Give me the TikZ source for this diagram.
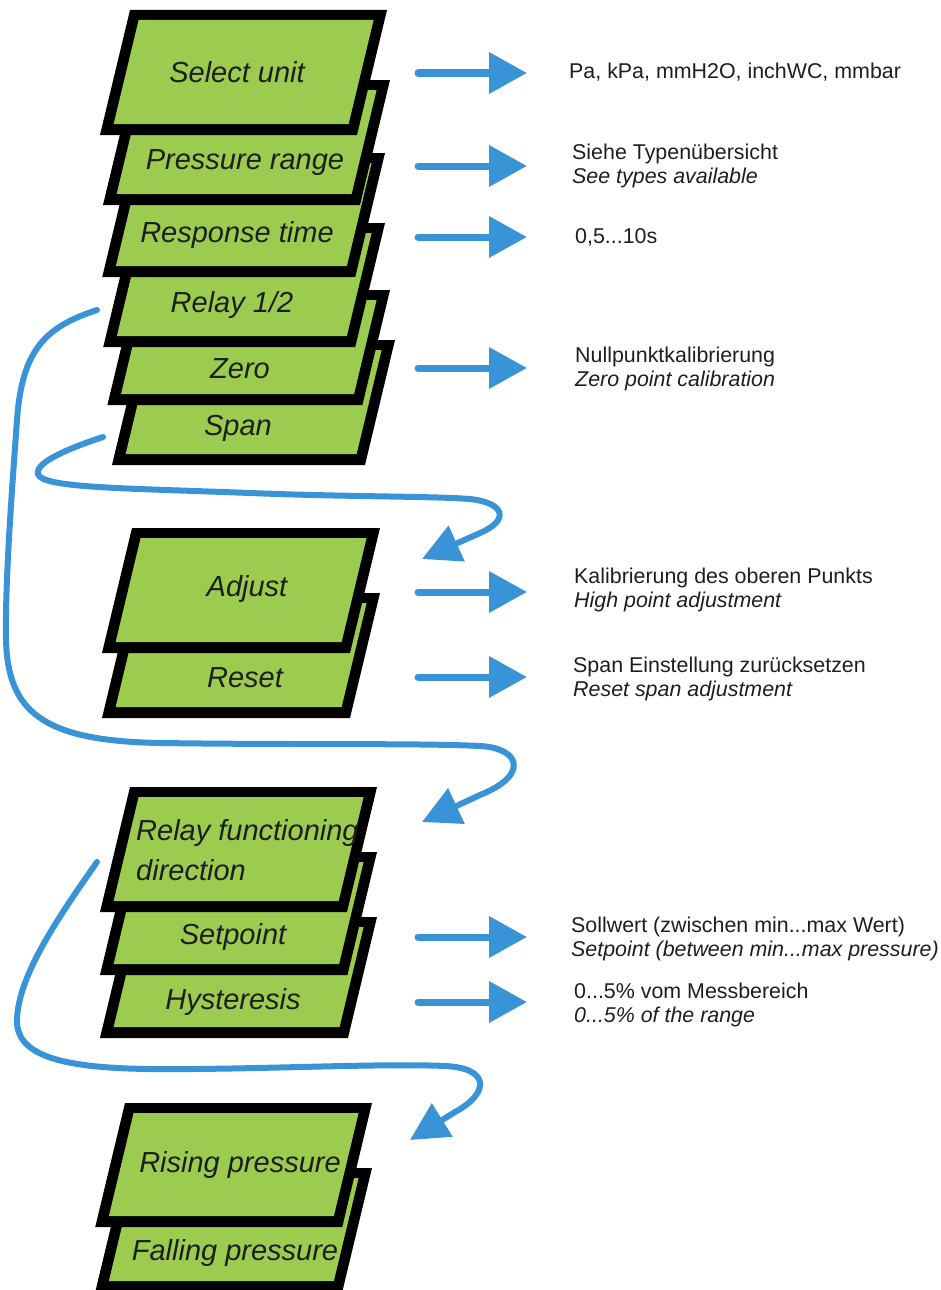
\documentclass[tikz,border=0pt]{standalone}
\usepackage{fontspec}
\setmainfont{Liberation Sans}
\usetikzlibrary{arrows.meta}
\definecolor{cardgreen}{RGB}{155,204,80}
\definecolor{flowblue}{RGB}{56,148,214}
\definecolor{inkgray}{RGB}{30,30,30}
\tikzset{
  cardtext/.style={font=\fontsize{29}{34}\selectfont\itshape, text=inkgray, inner sep=0pt},
  lbl/.style={font=\fontsize{21.4}{24}\selectfont, anchor=west, align=left, inner sep=0pt, text=inkgray},
  straightarrow/.style={draw=flowblue, line width=7pt, line cap=round, -{Triangle[length=38pt,width=40pt]}},
  curvearrow/.style={draw=flowblue, line width=6pt, line cap=round, -{Triangle[length=38pt,width=38pt]}},
}
% #1 top-right x, #2 top y, #3 bottom y, #4 width of top edge
\newcommand\drawcard[4]{%
  \pgfmathsetmacro\cH{#3-#2}%
  \pgfmathsetmacro\cS{0.24*\cH}%
  \fill[black] (#1,#2) -- ({#1-#4},#2) -- ({#1-#4-\cS},#3) -- ({#1-\cS},#3) -- cycle;
  \fill[cardgreen] ({#1-11-2.4},{#2+10}) -- ({#1-#4+11-2.4},{#2+10})
     -- ({#1-#4+11-0.24*(\cH-11)},{#3-11}) -- ({#1-11-0.24*(\cH-11)},{#3-11}) -- cycle;
}
\begin{document}
\begin{tikzpicture}[x=1pt,y=-1pt]
\useasboundingbox (0,0) rectangle (941,1290);
% ---------- stack 1
\drawcard{395}{340}{465}{253}
\drawcard{390}{290}{405}{255}
\drawcard{385}{223}{347}{252}
\drawcard{385}{153}{277}{253}
\drawcard{390}{80}{205}{257}
\drawcard{387}{10}{135}{257}
% ---------- stack 2
\drawcard{380}{593}{718}{248}
\drawcard{380}{528}{653}{248}
% ---------- stack 3
\drawcard{377}{917}{1038}{248}
\drawcard{377}{852}{975}{247.5}
\drawcard{377}{787}{912}{247}
% ---------- stack 4
\drawcard{372}{1168}{1292}{247}
\drawcard{372}{1103}{1227}{247}

% ---------- card texts
\node[cardtext] (select) at (237,72) {Select unit};
\node[cardtext] (prange) at (245,163) {Pressure range};
\node[cardtext] (resp) at (237,235) {Response time};
\node[cardtext] (relay) at (232,305) {Relay 1/2};
\node[cardtext] (zero) at (240,369) {Zero};
\node[cardtext] (span) at (238,428) {Span};
\node[cardtext] (adjust) at (247,589) {Adjust};
\node[cardtext] (reset) at (245,678) {Reset};
\node[cardtext, anchor=west, align=left, font=\fontsize{29}{40}\selectfont\itshape] (relfun) at (136,850) {Relay functioning\\direction};
\node[cardtext] (setp) at (233,937) {Setpoint};
\node[cardtext] (hyst) at (233,1002) {Hysteresis};
\node[cardtext] (rising) at (240,1165) {Rising pressure};
\node[cardtext] (falling) at (235,1253) {Falling pressure};

% ---------- right labels
\node[lbl] (l1) at (569,72) {Pa, kPa, mmH2O, inchWC, mmbar};
\node[lbl] (l2) at (572,165.5) {Siehe Typenübersicht\\\textit{See types available}};
\node[lbl] (l3) at (575,237) {0,5...10s};
\node[lbl] (l4) at (575,369) {Nullpunktkalibrierung\\\textit{Zero point calibration}};
\node[lbl] (l5) at (574,590) {Kalibrierung des oberen Punkts\\\textit{High point adjustment}};
\node[lbl] (l6) at (573,679) {Span Einstellung zurücksetzen\\\textit{Reset span adjustment}};
\node[lbl] (l7) at (571,938.5) {Sollwert (zwischen min...max Wert)\\\textit{Setpoint (between min...max pressure)}};
\node[lbl] (l8) at (574,1005) {0...5\% vom Messbereich\\\textit{0...5\% of the range}};

% ---------- straight arrows
\foreach \n/\yy in {1/73, 2/166, 3/237, 4/368, 5/592, 6/677, 7/937, 8/1002}{
  \coordinate (s\n) at (418,\yy);
  \coordinate (e\n) at (527,\yy);
  \draw[straightarrow] (s\n) -- (e\n);
}

% ---------- curved connectors
\coordinate (cA0) at (103,437); \coordinate (cA1) at (422,559);
\draw[curvearrow] (cA0) .. controls (70,448) and (35,462) .. (38,474)
  .. controls (42,488) and (120,488) .. (250,493)
  .. controls (350,497) and (430,496) .. (470,499)
  .. controls (505,503) and (510,520) .. (480,533) -- (cA1);

\coordinate (cB0) at (97,310); \coordinate (cB1) at (422,822);
\draw[curvearrow] (cB0) .. controls (45,327) and (22,350) .. (17,420)
  .. controls (12,490) and (5,580) .. (6,640)
  .. controls (8,710) and (40,741) .. (160,743)
  .. controls (300,745) and (420,743) .. (480,746)
  .. controls (520,748) and (530,775) .. (480,795) -- (cB1);

\coordinate (cC0) at (97,862); \coordinate (cC1) at (410,1140);
\draw[curvearrow] (cC0) .. controls (60,915) and (18,975) .. (17,1020)
  .. controls (16,1055) and (60,1068) .. (150,1069)
  .. controls (250,1070) and (380,1063) .. (445,1066)
  .. controls (490,1068) and (490,1093) .. (455,1112) -- (cC1);
\end{tikzpicture}
\end{document}
